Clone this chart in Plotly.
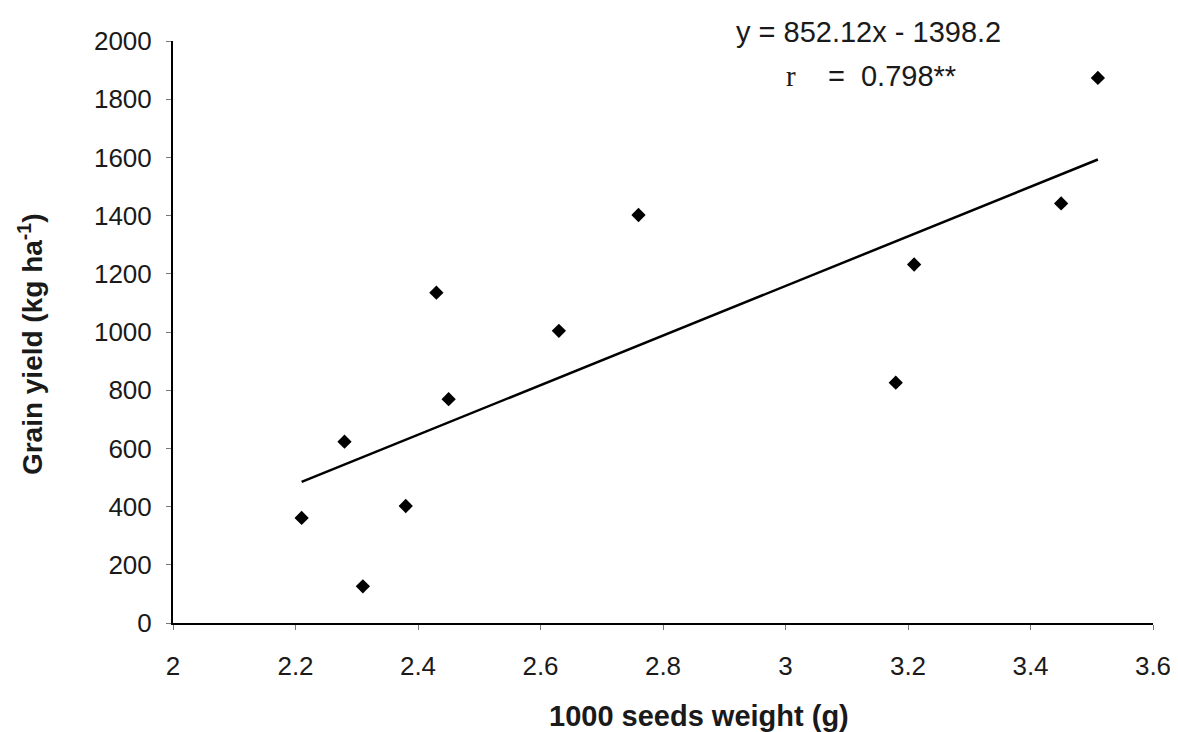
import plotly.graph_objects as go

# Data
seed_weight = [2.21, 2.28, 2.31, 2.38, 2.43, 2.45, 2.63, 2.76, 3.18, 3.21, 3.45, 3.51]
grain_yield = [361, 623, 126, 402, 1135, 769, 1004, 1402, 826, 1232, 1442, 1873]
slope = 852.12
intercept = -1398.2
trend_x = [min(seed_weight), max(seed_weight)]
trend_y = [slope * v + intercept for v in trend_x]
x_ticks = [2, 2.2, 2.4, 2.6, 2.8, 3, 3.2, 3.4, 3.6]
y_ticks = [0, 200, 400, 600, 800, 1000, 1200, 1400, 1600, 1800, 2000]

font = "Liberation Sans, Arial, sans-serif"
txt = "#1a1a1a"

fig = go.Figure()
fig.add_trace(go.Scatter(x=trend_x, y=trend_y, mode="lines",
                         line=dict(color="black", width=2.5), showlegend=False))
fig.add_trace(go.Scatter(x=seed_weight, y=grain_yield, mode="markers",
                         marker=dict(symbol="diamond", size=11, color="black"),
                         showlegend=False))

# page body has an 8px margin, so the figure is 8px smaller and margins shifted
fig.update_layout(
    width=1170, height=724,
    margin=dict(l=165, r=25, t=33, b=109),
    paper_bgcolor="white", plot_bgcolor="white",
    font=dict(family=font, size=26, color=txt),
    xaxis=dict(range=[2, 3.6], tickvals=x_ticks, ticktext=[str(v) for v in x_ticks],
               showgrid=False, zeroline=False, showline=True, linecolor="black",
               linewidth=2, ticks="outside", ticklen=5, tickcolor="#777",
               ticklabelstandoff=14, automargin=False,
               tickfont=dict(size=26, family=font, color=txt)),
    yaxis=dict(range=[0, 2000], tickvals=y_ticks,
               showgrid=False, zeroline=False, showline=True, linecolor="black",
               linewidth=2, ticks="outside", ticklen=5, tickcolor="#777",
               ticklabelstandoff=9, automargin=False,
               tickfont=dict(size=26, family=font, color=txt)),
)

# axis titles
fig.add_annotation(xref="paper", yref="paper", x=0.5367, y=-0.16, xanchor="center", yanchor="middle",
                   text="<b>1000 seeds weight (g)</b>", showarrow=False,
                   font=dict(size=29, family=font, color=txt))
fig.add_annotation(xref="paper", yref="paper", x=-0.145, y=0.479, xanchor="center", yanchor="middle",
                   textangle=-90, text="<b>Grain yield (kg ha<sup>-1</sup>)</b>", showarrow=False,
                   font=dict(size=28, family=font, color=txt))

# regression equation and r
fig.add_annotation(xref="x", yref="paper", x=3.135, y=1.0155, xanchor="center", yanchor="middle",
                   text="y = 852.12x - 1398.2", showarrow=False,
                   font=dict(size=29, family=font, color=txt))
fig.add_annotation(xref="x", yref="paper", x=3.14, y=0.94, xanchor="center", yanchor="middle",
                   text="<span style='font-family:Liberation Serif'>r</span>    =  0.798**",
                   showarrow=False, font=dict(size=29, family=font, color=txt))

fig.write_html("out.html")
